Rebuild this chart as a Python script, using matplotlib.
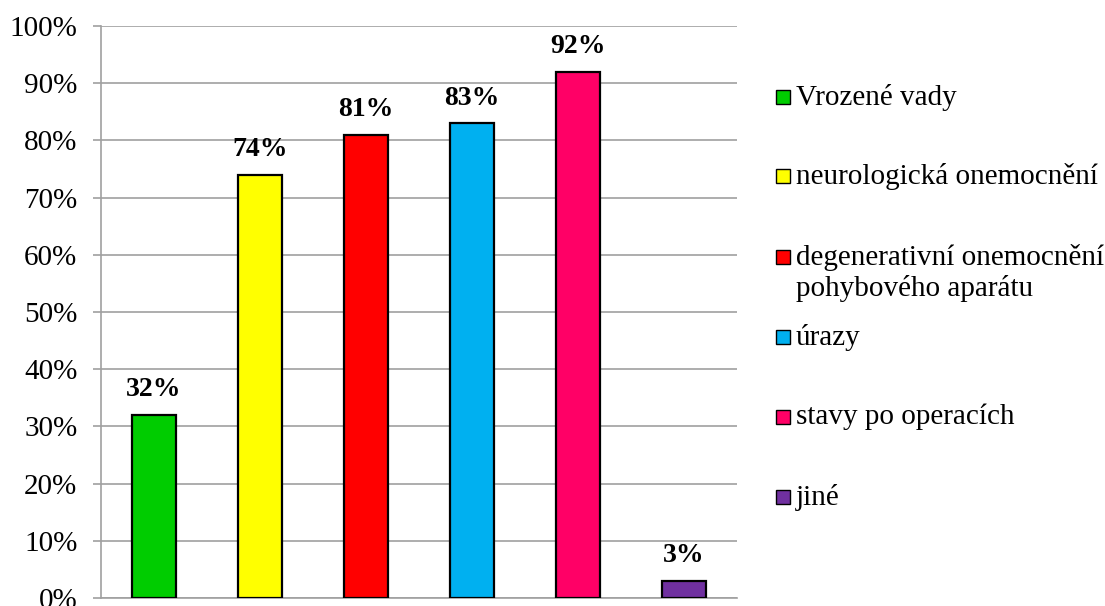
import matplotlib.pyplot as plt
from matplotlib.patches import Rectangle

categories = ['Vrozené vady', 'neurologická onemocnění',
              'degenerativní onemocnění\npohybového aparátu', 'úrazy',
              'stavy po operacích', 'jiné']
values = [32, 74, 81, 83, 92, 3]
colors = ['#00CC00', '#FFFF00', '#FF0000', '#00B0F0', '#FF0066', '#7030A0']
yticks = [0, 10, 20, 30, 40, 50, 60, 70, 80, 90, 100]

plt.rcParams['font.family'] = ['Liberation Serif', 'DejaVu Serif']

fig = plt.figure(figsize=(11.05, 6.06), dpi=100)
ax = fig.add_axes([101 / 1105, 8 / 606, 636 / 1105, 572 / 606])

x = range(len(values))
bars = ax.bar(x, values, width=0.41, color=colors, edgecolor='black',
              linewidth=1.6, zorder=3)
for b, v in zip(bars, values):
    ax.annotate(f'{v}%', (b.get_x() + b.get_width() / 2, v),
                xytext=(0, 9), textcoords='offset points',
                ha='center', va='bottom', fontsize=20, fontweight='bold')

ax.set_xlim(-0.5, len(values) - 0.5)
ax.set_ylim(0, 100)
ax.set_yticks(yticks)
ax.set_yticklabels([f'{t}%' for t in yticks], fontsize=21)
ax.set_xticks([])
ax.yaxis.grid(True, color='#a0a0a0', linewidth=1.2, zorder=0)
ax.tick_params(axis='y', length=6, width=1.2, color='#a0a0a0', pad=11)
for s in ['top', 'right']:
    ax.spines[s].set_visible(False)
for s in ['left', 'bottom']:
    ax.spines[s].set_color('#a0a0a0')
    ax.spines[s].set_linewidth(1.2)

# legend drawn by hand so the two-line entry keeps its marker on the first line
legend_y = [97, 176, 257, 337, 417, 497]
W, H = 1105, 606
for lab, c, yy in zip(categories, colors, legend_y):
    fig.patches.append(Rectangle((776 / W, 1 - (yy + 7) / H), 14 / W, 14 / H,
                                 transform=fig.transFigure, facecolor=c,
                                 edgecolor='black', linewidth=1.0))
    fig.text(796 / W, 1 - (yy - 13) / H, lab, fontsize=21, va='top',
             ha='left', linespacing=1.2)

fig.savefig('out.png', dpi=100)
